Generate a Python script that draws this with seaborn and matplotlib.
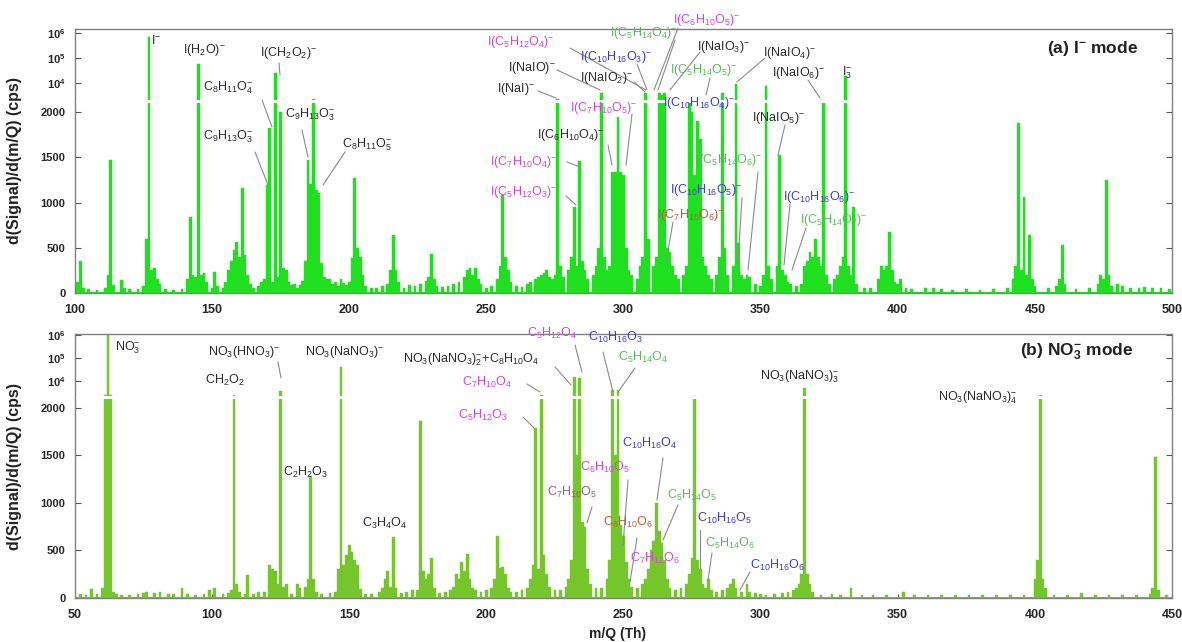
import numpy as np
import pandas as pd
import matplotlib
matplotlib.use('Agg')
import matplotlib.pyplot as plt
from matplotlib.lines import Line2D
import seaborn as sns

# ---------------- data: (a) I- mode spectrum ----------------
mz_a = [101, 102, 103, 105, 108, 111, 112, 113, 114, 117, 118, 120, 123, 125, 126, 127, 128, 129, 130, 131,
        133, 136, 139, 141, 142, 143, 144, 145, 146, 147, 148, 150, 151, 152, 154, 155, 156, 157, 158, 159,
        160, 161, 162, 163, 164, 165, 167, 168, 169, 170, 171, 172, 173, 174, 175, 176, 177, 178, 179, 180,
        181, 182, 183, 184, 185, 186, 187, 188, 189, 190, 191, 192, 193, 194, 195, 196, 197, 198, 199, 200,
        201, 202, 203, 204, 205, 206, 208, 210, 212, 214, 215, 216, 217, 218, 220, 222, 224, 226, 228, 229,
        230, 231, 232, 234, 236, 238, 240, 242, 243, 244, 245, 246, 247, 248, 250, 252, 254, 255, 256, 257,
        258, 259, 261, 263, 265, 266, 268, 269, 270, 271, 272, 273, 274, 275, 276, 277, 278, 280, 281, 282,
        283, 284, 285, 286, 287, 289, 290, 291, 292, 293, 294, 295, 296, 297, 298, 299, 300, 301, 302, 303,
        305, 306, 307, 308, 309, 311, 312, 313, 314, 315, 316, 317, 318, 319, 320, 322, 323, 324, 325, 326,
        327, 328, 329, 330, 331, 332, 334, 335, 336, 337, 338, 340, 341, 342, 343, 344, 345, 346, 348, 350,
        351, 352, 353, 354, 356, 357, 358, 359, 360, 361, 363, 365, 366, 367, 368, 369, 370, 371, 372, 373,
        374, 375, 377, 378, 379, 380, 381, 382, 383, 384, 385, 388, 390, 393, 394, 395, 396, 397, 398, 399,
        400, 401, 403, 405, 410, 413, 416, 420, 425, 430, 435, 440, 442, 443, 444, 445, 446, 447, 448, 449,
        450, 455, 458, 459, 460, 461, 465, 470, 473, 474, 475, 476, 477, 478, 480, 482, 485, 488, 490, 493,
        496, 499]
sig_a = [120, 350, 60, 40, 30, 60, 200, 1470, 90, 140, 60, 40, 40, 80, 600, 700000, 250, 280, 150, 100,
         40, 30, 40, 150, 840, 200, 180, 60000, 200, 220, 120, 60, 230, 80, 50, 120, 250, 350, 480, 560,
         400, 1160, 420, 200, 100, 60, 80, 120, 150, 1190, 1820, 120, 25000, 180, 2000, 280, 250, 120, 90, 100,
         60, 90, 130, 350, 1470, 1200, 2300, 1140, 1100, 330, 180, 150, 160, 100, 120, 80, 150, 110, 90, 120,
         390, 1270, 500, 400, 200, 80, 60, 50, 80, 100, 250, 640, 250, 120, 60, 90, 80, 100, 130, 180,
         430, 150, 80, 70, 80, 100, 120, 180, 250, 280, 200, 280, 150, 100, 60, 80, 150, 300, 1080, 400,
         250, 120, 80, 70, 100, 120, 150, 180, 200, 220, 250, 180, 150, 200, 2300, 300, 180, 250, 400, 950,
         300, 1460, 350, 250, 150, 200, 300, 500, 4000, 400, 250, 300, 1340, 1340, 1950, 1340, 1300, 500, 250, 200,
         150, 300, 400, 4000, 600, 300, 400, 4000, 3500, 4000, 500, 450, 300, 200, 150, 200, 300, 2200, 2000, 1300,
         1900, 1700, 400, 300, 200, 150, 200, 400, 4200, 500, 200, 300, 9000, 550, 200, 150, 200, 180, 100, 80,
         200, 8000, 300, 150, 300, 1520, 250, 200, 120, 100, 80, 100, 300, 350, 450, 400, 600, 400, 300, 2200,
         200, 100, 150, 200, 300, 400, 20000, 300, 200, 950, 100, 60, 60, 150, 300, 250, 300, 670, 250, 120,
         100, 150, 60, 40, 50, 60, 40, 30, 40, 30, 40, 60, 150, 300, 1880, 250, 1060, 200, 640, 150,
         80, 50, 80, 150, 530, 100, 40, 50, 100, 200, 150, 1250, 200, 80, 100, 80, 60, 50, 70, 60,
         50, 40]

# ---------------- data: (b) NO3- mode spectrum ----------------
mz_b = [52, 54, 56, 58, 60, 61, 62, 63, 64, 65, 67, 70, 73, 75, 76, 79, 81, 84, 86, 89,
        91, 94, 97, 99, 101, 104, 106, 107, 108, 109, 110, 112, 113, 115, 117, 119, 121, 122, 123, 124,
        125, 126, 127, 129, 131, 132, 134, 135, 136, 137, 138, 140, 143, 145, 146, 147, 148, 149, 150, 151,
        152, 153, 154, 156, 158, 161, 162, 163, 164, 165, 166, 167, 169, 171, 173, 175, 176, 177, 178, 179,
        180, 181, 183, 185, 187, 188, 189, 190, 191, 192, 193, 194, 195, 196, 198, 200, 202, 203, 204, 205,
        206, 207, 208, 209, 211, 213, 215, 216, 217, 218, 219, 220, 221, 222, 223, 225, 227, 229, 230, 231,
        232, 233, 234, 235, 236, 237, 238, 240, 242, 244, 245, 246, 247, 248, 249, 250, 251, 252, 253, 255,
        257, 258, 259, 260, 261, 262, 263, 264, 265, 266, 267, 269, 271, 273, 274, 275, 276, 277, 278, 279,
        280, 281, 282, 284, 286, 288, 289, 290, 291, 293, 295, 296, 298, 300, 302, 305, 308, 310, 312, 313,
        314, 315, 316, 317, 318, 319, 322, 326, 329, 333, 337, 341, 346, 352, 356, 361, 366, 371, 376, 381,
        386, 391, 396, 400, 401, 402, 403, 404, 407, 412, 417, 422, 427, 432, 437, 442, 443, 444, 445, 448]
sig_b = [40, 30, 90, 40, 100, 2300, 1000000, 2300, 60, 40, 30, 30, 40, 50, 60, 50, 60, 40, 40, 100,
         40, 30, 40, 80, 110, 40, 50, 80, 2300, 150, 60, 40, 240, 40, 60, 60, 350, 300, 280, 150,
         3400, 120, 150, 40, 150, 100, 120, 200, 1280, 200, 60, 40, 50, 60, 300, 40000, 350, 450, 560, 480,
         400, 350, 90, 40, 40, 60, 100, 200, 280, 120, 640, 100, 50, 60, 80, 80, 1860, 280, 200, 250,
         420, 100, 50, 60, 80, 120, 250, 200, 380, 280, 460, 200, 100, 80, 60, 80, 100, 200, 650, 320,
         330, 250, 100, 60, 60, 80, 100, 200, 350, 1790, 300, 2300, 450, 250, 120, 80, 80, 120, 200, 400,
         15000, 1500, 13000, 800, 750, 300, 150, 100, 100, 200, 400, 4000, 1500, 4000, 770, 650, 380, 200, 120, 100,
         150, 200, 300, 500, 600, 1000, 700, 580, 400, 200, 100, 80, 100, 150, 250, 420, 2100, 400, 300, 150,
         100, 200, 80, 60, 80, 100, 150, 200, 100, 60, 150, 60, 50, 40, 30, 40, 50, 60, 80, 100,
         150, 250, 4800, 250, 150, 60, 30, 40, 30, 100, 30, 30, 30, 60, 30, 30, 30, 30, 30, 30,
         30, 30, 30, 200, 400, 2400, 200, 100, 30, 30, 50, 30, 30, 30, 30, 40, 100, 1480, 80, 30]

# ---------------- annotation text ----------------
labels_a = [r'$\mathrm{I^{-}}$', r'$\mathrm{I(H_2O)^{-}}$', r'$\mathrm{I(CH_2O_2)^{-}}$',
            r'$\mathrm{C_8H_{11}O_4^{-}}$', r'$\mathrm{C_9H_{13}O_3^{-}}$', r'$\mathrm{C_9H_{13}O_3^{-}}$',
            r'$\mathrm{C_8H_{11}O_5^{-}}$', r'$\mathrm{I(C_5H_{12}O_4)^{-}}$', r'$\mathrm{I(C_5H_{14}O_4)^{-}}$',
            r'$\mathrm{I(C_6H_{10}O_5)^{-}}$', r'$\mathrm{I(C_{10}H_{16}O_3)^{-}}$', r'$\mathrm{I(NaIO)^{-}}$',
            r'$\mathrm{I(NaIO_2)^{-}}$', r'$\mathrm{I(NaI)^{-}}$', r'$\mathrm{I(C_7H_{10}O_5)^{-}}$',
            r'$\mathrm{I(C_6H_{10}O_4)^{-}}$', r'$\mathrm{I(C_7H_{10}O_4)^{-}}$', r'$\mathrm{I(C_5H_{12}O_3)^{-}}$',
            r'$\mathrm{I(C_{10}H_{16}O_4)^{-}}$', r'$\mathrm{I(C_5H_{14}O_5)^{-}}$', r'$\mathrm{I(NaIO_3)^{-}}$',
            r'$\mathrm{I(NaIO_4)^{-}}$', r'$\mathrm{I(NaIO_6)^{-}}$', r'$\mathrm{I_3^{-}}$',
            r'$\mathrm{I(NaIO_5)^{-}}$', r'$\mathrm{I(C_5H_{14}O_6)^{-}}$', r'$\mathrm{I(C_{10}H_{16}O_5)^{-}}$',
            r'$\mathrm{I(C_7H_{10}O_6)^{-}}$', r'$\mathrm{I(C_{10}H_{16}O_6)^{-}}$', r'$\mathrm{I(C_5H_{14}O_7)^{-}}$']
labels_b = [r'$\mathrm{NO_3^{-}}$', r'$\mathrm{NO_3(HNO_3)^{-}}$', r'$\mathrm{CH_2O_2}$',
            r'$\mathrm{NO_3(NaNO_3)^{-}}$', r'$\mathrm{C_2H_2O_3}$', r'$\mathrm{C_3H_4O_4}$',
            r'$\mathrm{NO_3(NaNO_3)_2^{-}\!+\!C_8H_{10}O_4}$', r'$\mathrm{C_7H_{10}O_4}$', r'$\mathrm{C_5H_{12}O_3}$',
            r'$\mathrm{C_5H_{12}O_4}$', r'$\mathrm{C_{10}H_{16}O_3}$', r'$\mathrm{C_5H_{14}O_4}$',
            r'$\mathrm{C_{10}H_{16}O_4}$', r'$\mathrm{C_6H_{10}O_5}$', r'$\mathrm{C_7H_{10}O_5}$',
            r'$\mathrm{C_6H_{10}O_6}$', r'$\mathrm{C_7H_{12}O_6}$', r'$\mathrm{C_5H_{14}O_5}$',
            r'$\mathrm{C_{10}H_{16}O_5}$', r'$\mathrm{C_5H_{14}O_6}$', r'$\mathrm{C_{10}H_{16}O_6}$',
            r'$\mathrm{NO_3(NaNO_3)_3^{-}}$', r'$\mathrm{NO_3(NaNO_3)_4^{-}}$']
lin_ticks = [0, 500, 1000, 1500, 2000]
log_ticks = [1e4, 1e5, 1e6]
log_ticklabels = [r'$\mathbf{10^{4}}$', r'$\mathbf{10^{5}}$', r'$\mathbf{10^{6}}$']
xticks_a = [100, 150, 200, 250, 300, 350, 400, 450, 500]
xticks_b = [50, 100, 150, 200, 250, 300, 350, 400, 450]

# ---------------- style ----------------
sns.set_theme(style='white')
plt.rcParams['font.family'] = ['Liberation Sans', 'DejaVu Sans']
plt.rcParams['mathtext.fontset'] = 'custom'
plt.rcParams['mathtext.rm'] = 'Liberation Sans'
plt.rcParams['mathtext.it'] = 'Liberation Sans:italic'
plt.rcParams['mathtext.bf'] = 'Liberation Sans:bold'

K, M, G, B, R, R2 = '#2a2a2a', '#d346d3', '#5cb85c', '#3b3bd0', '#b5603a', '#9a5a70'
LC = '#8a8a8a'
W, H = 1182, 642
fig = plt.figure(figsize=(W / 100, H / 100), dpi=100)


def add_ax(x0, y0, x1, y1):
    return fig.add_axes([x0 / W, 1 - y1 / H, (x1 - x0) / W, (y1 - y0) / H])


def panel(mz, sig, color, xlim, xticks, top, brk, bottom, lin_max, log_hi):
    ax_log = add_ax(75, top, 1172, brk)
    ax_lin = add_ax(75, brk, 1172, bottom)
    df = pd.DataFrame({'mz': mz, 'signal': sig})
    for ax in (ax_log, ax_lin):
        sns.histplot(data=df, x='mz', weights='signal', discrete=True, color=color, alpha=1,
                     edgecolor=color, linewidth=0.3, shrink=1.0, ax=ax)
        ax.set_xlim(*xlim)
        ax.set_xlabel('')
        ax.set_ylabel('')
        for s in ax.spines.values():
            s.set_color('#808080')
            s.set_linewidth(1.0)
        ax.tick_params(axis='y', direction='in', left=True, right=True, length=4, width=0.8,
                       color='#555555', labelsize=8, pad=7)
    # broken axis: log part continues where the linear part stops
    ax_log.set_yscale('log')
    ax_log.set_ylim(lin_max, log_hi)
    ax_log.set_yticks(log_ticks)
    ax_log.set_yticklabels(log_ticklabels)
    ax_log.minorticks_off()
    ax_log.set_xticks([])
    ax_log.spines['bottom'].set_visible(False)
    ax_lin.spines['top'].set_visible(False)
    ax_lin.set_ylim(0, lin_max)
    ax_lin.set_yticks(lin_ticks)
    ax_lin.set_yticklabels([str(t) for t in lin_ticks], fontweight='bold')
    ax_lin.set_xticks(xticks)
    ax_lin.set_xticklabels([str(t) for t in xticks], fontweight='bold')
    ax_lin.tick_params(axis='x', direction='in', bottom=True, top=False, length=3, width=0.8,
                       color='#555555', labelsize=9, pad=8)
    # continuous baseline of the spectrum and the white gap marking the axis break
    ax_lin.axhline(0, color=color, lw=2.2, zorder=1)
    ax_lin.axhline(lin_max * 0.995, xmin=0.002, xmax=0.998, color='white', lw=2.2, zorder=5)
    return ax_log, ax_lin


panel(mz_a, sig_a, '#1fe01f', (100, 500), xticks_a, 29, 100, 293, 2133, 10 ** 6.17)
panel(mz_b, sig_b, '#74c62a', (50, 450), xticks_b, 334, 396, 598, 2126, 10 ** 6.04)


def put(text, color, x, y, line=None, size=9, lcolor=LC):
    fig.text(x / W, 1 - y / H, text, color=color, fontsize=size, ha='left', va='center')
    if line is not None:
        x0, y0, x1, y1 = line
        fig.add_artist(Line2D([x0 / W, x1 / W], [1 - y0 / H, 1 - y1 / H], color=lcolor, lw=0.8,
                              transform=fig.transFigure))


# layout of the labels: colour, x, y, leader line (figure pixels from top-left)
layout_a = [(K, 151, 40, None), (K, 183, 50, None), (K, 260, 53, (279, 63, 280, 75)),
            (K, 203, 88, (262, 100, 272, 127)), (K, 203, 137, (255, 152, 268, 185)),
            (K, 285, 115, (302, 130, 308, 157)), (K, 342, 145, (345, 152, 323, 185)),
            (M, 487, 42, (570, 48, 646, 90)), (G, 610, 33, (675, 40, 658, 90)),
            (M, 673, 20, (678, 28, 654, 90)), (B, 580, 57, (637, 64, 647, 90)),
            (K, 508, 68, (557, 70, 600, 90)), (K, 580, 78, (634, 82, 645, 92)),
            (K, 497, 89, (538, 91, 556, 98)), (M, 570, 108, (632, 114, 626, 165)),
            (K, 537, 135, (608, 145, 612, 165)), (M, 490, 162, (567, 162, 580, 167)),
            (M, 490, 192, (566, 196, 576, 205)), (B, 663, 103, None),
            (G, 670, 70, (710, 78, 706, 95)), (K, 697, 47, (700, 52, 670, 90)),
            (K, 763, 53, (765, 58, 737, 82)), (K, 772, 73, (808, 80, 820, 98)),
            (K, 842, 73, None), (K, 752, 118, (785, 125, 778, 155)),
            (G, 695, 160, (758, 172, 748, 270)), (B, 670, 190, (742, 198, 738, 262)),
            (R, 657, 215, (673, 222, 666, 262)), (B, 783, 197, (790, 204, 784, 265)),
            (G, 800, 220, (806, 228, 792, 270))]
layout_b = [(K, 115, 348, None), (K, 208, 352, (278, 362, 281, 378)), (K, 205, 380, None),
            (K, 305, 352, None), (K, 283, 472, None), (K, 362, 523, None),
            (K, 403, 360, (555, 367, 571, 385)), (M, 462, 382, (527, 384, 540, 392)),
            (M, 458, 415, (523, 417, 534, 428)), (M, 527, 333, (575, 345, 582, 372)),
            (B, 588, 337, (603, 352, 613, 392)), (G, 618, 357, (635, 368, 618, 392)),
            (B, 622, 443, (663, 458, 657, 500)), (M, 580, 467, (628, 480, 623, 545)),
            (R2, 547, 492, (592, 507, 587, 523)), (R, 603, 522, (637, 538, 630, 582)),
            (M, 630, 558, None), (G, 667, 495, (678, 505, 663, 540)),
            (B, 697, 518, (700, 530, 700, 568)), (G, 705, 543, (712, 553, 708, 580)),
            (B, 750, 565, (750, 572, 740, 590)), (K, 760, 377, None), (K, 938, 398, None)]

for txt, (c, x, y, ln) in zip(labels_a, layout_a):
    put(txt, c, x, y, ln)
for txt, (c, x, y, ln) in zip(labels_b, layout_b):
    put(txt, c, x, y, ln)

fig.text(1047 / W, 1 - 48 / H, r'(a) I$^{\mathbf{-}}$ mode', fontsize=12.5, fontweight='bold',
         color='#222222', ha='left', va='center')
fig.text(1020 / W, 1 - 352 / H, r'(b) NO$_{\mathbf{3}}^{\mathbf{-}}$ mode', fontsize=12.5, fontweight='bold',
         color='#222222', ha='left', va='center')
for yc in (161, 466):
    fig.text(15 / W, 1 - yc / H, 'd(Signal)/d(m/Q) (cps)', rotation=90, fontsize=11.5,
             fontweight='bold', ha='center', va='center', color='#222222')
fig.text(618 / W, 1 - 634 / H, 'm/Q (Th)', fontsize=10, fontweight='bold', ha='center',
         va='center', color='#222222')

fig.savefig('out.png', dpi=100)
